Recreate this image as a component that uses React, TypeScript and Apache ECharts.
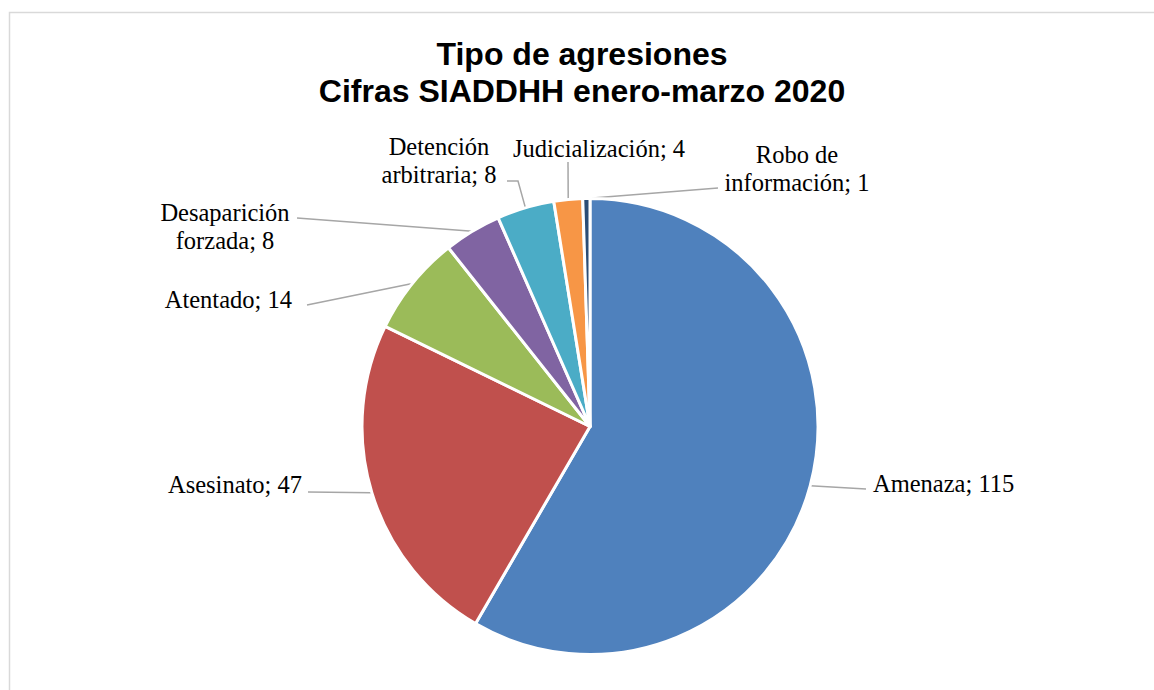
import React, { useEffect, useRef } from "react";
import * as echarts from "echarts";

const categories = [
  "Amenaza",
  "Asesinato",
  "Atentado",
  "Desaparición\nforzada",
  "Detención\narbitraria",
  "Judicialización",
  "Robo de\ninformación",
];
const values = [115, 47, 14, 8, 8, 4, 1];
const colors = ["#4F81BD", "#C0504D", "#9BBB59", "#8064A2", "#4BACC6", "#F79646", "#2C4D75"];
const titleLines = ["Tipo de agresiones", "Cifras SIADDHH enero-marzo 2020"];

// label placement (layout only)
const labelPlacement = [
  { x: 873, y: 483, align: "left", pts: [[866, 489]] },
  { x: 302, y: 484, align: "right", pts: [[308, 492]] },
  { x: 292, y: 299, align: "right", pts: [[307, 305]] },
  { x: 225, y: 226, align: "center", pts: [[297, 218]] },
  { x: 439, y: 160, align: "center", pts: [[518, 181], [507, 181]] },
  { x: 599, y: 148, align: "center", pts: [[568, 162]] },
  { x: 797, y: 168, align: "center", pts: [[718, 188]] },
];

export default function App() {
  const ref = useRef<HTMLDivElement>(null);
  useEffect(() => {
    if (!ref.current) return;
    const chart = echarts.init(ref.current, null, { renderer: "svg" });
    chart.setOption({
      animation: false,
      backgroundColor: "#ffffff",
      title: {
        text: titleLines.join("\n"),
        left: 577,
        top: 30,
        textAlign: "center",
        textStyle: {
          fontFamily: "Liberation Sans",
          fontWeight: "bold",
          fontSize: 32,
          lineHeight: 37,
          color: "#000000",
        },
      },
      graphic: [
        {
          type: "rect",
          shape: { x: 9.5, y: 12.5, width: 1170, height: 700 },
          style: { fill: "none", stroke: "#d9d9d9", lineWidth: 1.5 },
          silent: true,
        },
      ],
      series: [
        {
          type: "pie",
          center: [590, 426.5],
          radius: 228,
          startAngle: 90,
          clockwise: true,
          avoidLabelOverlap: false,
          data: categories.map((c, i) => ({
            name: c,
            value: values[i],
            itemStyle: { color: colors[i] },
          })),
          itemStyle: { borderColor: "#ffffff", borderWidth: 3 },
          label: {
            show: true,
            position: "outside",
            formatter: "{b}; {c}",
            fontFamily: "Liberation Serif",
            fontSize: 24.5,
            lineHeight: 28,
            color: "#000000",
          },
          labelLine: {
            show: true,
            length: 10,
            length2: 10,
            lineStyle: { color: "#a6a6a6", width: 1.5 },
          },
          labelLayout: (params: any) => {
            const p = labelPlacement[params.dataIndex];
            const start = params.labelLinePoints ? params.labelLinePoints[0] : p.pts[0];
            const pts = [start, ...p.pts];
            if (pts.length < 3) pts.splice(1, 0, p.pts[0]);
            return {
              x: p.x,
              y: p.y,
              align: p.align,
              verticalAlign: "middle",
              labelLinePoints: pts,
            };
          },
        },
      ],
    });
    return () => chart.dispose();
  }, []);
  return (
    <div
      ref={ref}
      style={{ position: "fixed", left: 0, top: 0, width: 1154, height: 690 }}
    />
  );
}
